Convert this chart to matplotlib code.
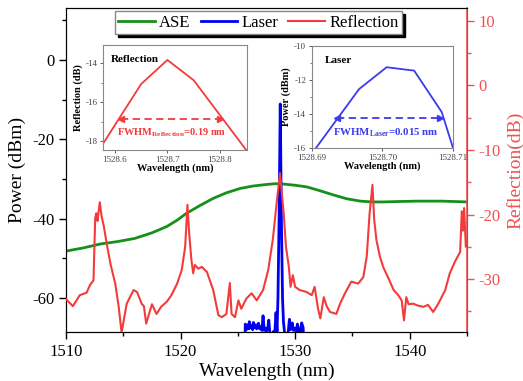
import matplotlib
matplotlib.use("Agg")
import matplotlib.pyplot as plt
from matplotlib.ticker import MultipleLocator, FixedLocator, FormatStrFormatter

plt.rcParams['font.family'] = ['Liberation Serif', 'DejaVu Serif']
plt.rcParams['mathtext.fontset'] = 'custom'
plt.rcParams['mathtext.rm'] = 'Liberation Serif'
plt.rcParams['mathtext.bf'] = 'Liberation Serif:bold'
plt.rcParams['axes.unicode_minus'] = False

# ---------------- data ----------------
ase_wl = [1510.0, 1511.5, 1513.0, 1514.5, 1516.0, 1517.5, 1518.8, 1519.7, 1520.5, 1521.7,
          1522.85, 1524.0, 1525.2, 1526.3, 1527.5, 1528.3, 1529.0, 1530.0, 1531.0, 1532.2,
          1533.3, 1534.5, 1535.7, 1536.7, 1537.7, 1539.0, 1540.6, 1542.8, 1545.0]
ase_pw = [-48.2, -47.4, -46.4, -45.8, -45.0, -43.6, -42.0, -40.4, -38.7, -36.7,
          -34.9, -33.5, -32.4, -31.8, -31.4, -31.2, -31.3, -31.6, -32.0, -33.0,
          -34.0, -35.0, -35.6, -35.8, -35.8, -35.7, -35.6, -35.6, -35.8]

laser_wl = [1510.0, 1525.6, 1525.65, 1525.75, 1525.85, 1525.95, 1526.0, 1526.1, 1526.2, 1526.3,
            1526.35, 1526.45, 1526.55, 1526.64, 1526.7, 1526.8, 1526.9, 1527.0, 1527.1, 1527.2,
            1527.3, 1527.4, 1527.5, 1527.6, 1527.7, 1527.8, 1527.95, 1528.1, 1528.2, 1528.33,
            1528.42, 1528.5, 1528.6, 1528.7, 1528.8, 1528.9, 1528.98, 1529.1, 1529.25, 1529.4,
            1529.5, 1529.6, 1529.75, 1529.85, 1530.0, 1530.1, 1530.2, 1530.3, 1530.45, 1530.57,
            1530.7, 1530.8, 1545.0]
laser_pw = [-75.0, -75.0, -66.6, -68.0, -66.8, -67.8, -66.0, -67.6, -66.9, -68.0,
            -66.2, -67.5, -66.8, -67.8, -67.0, -66.4, -67.8, -67.3, -68.2, -64.5,
            -68.2, -67.6, -68.4, -67.8, -65.6, -69.0, -70.0, -68.5, -70.0, -63.7,
            -68.5, -60.0, -40.0, -11.1, -40.0, -60.0, -66.0, -69.5, -70.0, -68.5,
            -65.4, -68.0, -66.3, -68.2, -67.6, -68.6, -66.6, -67.9, -69.5, -66.3,
            -67.5, -75.0, -75.0]

refl_wl = [1510.0, 1510.6, 1511.2, 1511.8, 1512.1, 1512.4, 1512.55, 1512.65, 1512.75, 1512.85,
           1512.95, 1513.1, 1513.3, 1513.55, 1513.9, 1514.3, 1514.6, 1514.85, 1515.3, 1515.9,
           1516.2, 1516.6, 1516.8, 1517.0, 1517.3, 1517.5, 1517.9, 1518.3, 1518.8, 1519.2,
           1519.7, 1520.1, 1520.4, 1520.6, 1520.75, 1520.95, 1521.1, 1521.25, 1521.55, 1521.85,
           1522.3, 1522.85, 1523.3, 1523.6, 1524.0, 1524.3, 1524.45, 1524.75, 1525.05, 1525.3,
           1525.75, 1526.2, 1526.65, 1527.2, 1527.65, 1528.05, 1528.35, 1528.68, 1529.0, 1529.2,
           1529.45, 1529.6, 1529.8, 1530.0, 1530.4, 1531.0, 1531.45, 1531.7, 1532.0, 1532.2,
           1532.5, 1532.75, 1533.05, 1533.6, 1533.9, 1534.35, 1534.9, 1535.5, 1535.95, 1536.25,
           1536.5, 1536.75, 1536.9, 1537.1, 1537.4, 1537.7, 1538.1, 1538.6, 1539.0, 1539.3,
           1539.5, 1539.7, 1539.9, 1540.3, 1540.7, 1541.2, 1541.6, 1542.05, 1542.5, 1543.1,
           1543.5, 1543.95, 1544.4, 1544.55, 1544.65, 1544.75, 1544.9, 1545.0]
refl_db = [-33.1, -34.2, -32.5, -32.1, -30.9, -30.2, -20.5, -19.8, -21.0, -19.5,
           -18.1, -20.2, -21.8, -24.5, -27.8, -30.7, -34.3, -38.3, -33.8, -31.7,
           -32.0, -33.8, -34.2, -36.9, -35.1, -33.9, -35.4, -34.3, -33.5, -32.5,
           -30.7, -28.6, -25.0, -18.5, -22.9, -27.1, -29.1, -27.8, -28.4, -28.1,
           -28.9, -31.7, -35.6, -35.9, -35.4, -30.6, -35.4, -35.9, -33.3, -34.6,
           -33.0, -32.2, -33.3, -31.7, -28.6, -23.9, -18.8, -13.6, -19.8, -25.0,
           -28.1, -31.2, -29.4, -31.2, -31.7, -32.0, -32.5, -31.2, -34.6, -36.1,
           -32.8, -34.2, -35.1, -35.4, -33.9, -32.2, -30.4, -30.7, -29.7, -26.5,
           -19.8, -15.4, -20.8, -24.0, -26.5, -28.2, -29.7, -31.7, -32.5, -33.3,
           -36.4, -32.8, -33.9, -33.8, -34.1, -34.3, -34.0, -35.1, -33.8, -31.7,
           -29.1, -27.3, -25.8, -19.5, -22.5, -19.0, -25.0, -24.0]

# inset data
inset_refl_wl = [1528.55, 1528.65, 1528.70, 1528.75, 1528.85]
inset_refl_db = [-19.3, -15.07, -13.83, -14.87, -18.46]
inset_laser_wl = [1528.6888, 1528.6967, 1528.7006, 1528.7045, 1528.7084, 1528.7123]
inset_laser_pw = [-17.0, -12.54, -11.26, -11.46, -13.88, -19.0]

xticks_main = [1510, 1520, 1530, 1540]
left_ticks = [0, -20, -40, -60]
right_ticks = [10, 0, -10, -20, -30]

GREEN = '#16901a'
BLUE = '#0000f0'
RED = '#f23c3c'
RED_AX = '#f25050'
LBLUE = '#3a3af0'

fig = plt.figure(figsize=(5.23, 3.81), dpi=100)
ax = fig.add_axes([0.1262, 0.1286, 0.7667, 0.8504])
ax2 = ax.twinx()

l_ase, = ax.plot(ase_wl, ase_pw, color=GREEN, lw=2.0, zorder=2, label='ASE')
l_las, = ax.plot(laser_wl, laser_pw, color=BLUE, lw=2.0, zorder=3, label='Laser')
l_ref, = ax2.plot(refl_wl, refl_db, color=RED, lw=1.5, zorder=4, label='Reflection')

ax.set_xlim(1510, 1545)
ax.set_ylim(-68.6, 13.1)
ax2.set_ylim(-38.2, 12.0)
ax.set_xticks(xticks_main)
ax.xaxis.set_minor_locator(MultipleLocator(5))
ax.set_yticks(left_ticks)
ax.yaxis.set_minor_locator(MultipleLocator(10))
ax2.set_yticks(right_ticks)
ax2.yaxis.set_minor_locator(MultipleLocator(5))

ax.tick_params(axis='both', which='major', direction='out', length=5, width=1, labelsize=12)
ax.tick_params(axis='both', which='minor', direction='out', length=3, width=1)
ax2.tick_params(axis='y', which='major', direction='out', length=5, width=1, labelsize=12,
                colors=RED_AX)
ax2.tick_params(axis='y', which='minor', direction='out', length=3, width=1, colors=RED_AX)
ax2.spines['right'].set_color(RED_AX)
ax2.spines['right'].set_linewidth(1.2)

ax.set_xlabel('Wavelength (nm)', fontsize=14, labelpad=2)
ax.set_ylabel('Power (dBm)', fontsize=14, labelpad=4)
ax2.set_ylabel('Reflection(dB)', fontsize=14, color=RED_AX, labelpad=4)

leg = ax.legend(handles=[l_ase, l_las, l_ref], loc='upper center',
                bbox_to_anchor=(0.48, 0.99), ncol=3, fontsize=12, frameon=True,
                fancybox=False, edgecolor='#888888', framealpha=1,
                shadow={'color': 'black', 'alpha': 1},
                handlelength=2.2, handletextpad=0.25, columnspacing=0.6,
                borderpad=0.2, borderaxespad=0.0)
leg.set_zorder(10)

# ---------------- inset: reflection ----------------
axr = fig.add_axes([0.1975, 0.6063, 0.2742, 0.2756])
axr.plot(inset_refl_wl, inset_refl_db, color=RED, lw=1.3)
axr.set_xlim(1528.578, 1528.851)
axr.set_ylim(-18.46, -13.06)
axr.set_xticks([1528.6, 1528.7, 1528.8])
axr.xaxis.set_major_formatter(FormatStrFormatter('%.1f'))
axr.set_yticks([-14, -16, -18])
axr.yaxis.set_minor_locator(FixedLocator([-15, -17]))
axr.set_xlabel('Wavelength (nm)', fontsize=7.5, fontweight='bold', labelpad=0)
axr.set_ylabel('Reflection (dB)', fontsize=7.5, fontweight='bold', labelpad=2)
axr.text(0.05, 0.86, 'Reflection', transform=axr.transAxes, fontsize=8, fontweight='bold',
         ha='left', va='center')
ref_arrow_x = (1528.612, 1528.800)
ref_arrow_y = -16.86
axr.plot(ref_arrow_x, [ref_arrow_y, ref_arrow_y], color=RED, lw=1.3, ls=(0, (4, 2.5)))
axr.plot([ref_arrow_x[0]], [ref_arrow_y], marker='<', color=RED, ms=5, mec=RED)
axr.plot([ref_arrow_x[1]], [ref_arrow_y], marker='>', color=RED, ms=5, mec=RED)
axr.text(1528.708, -17.55, r'FWHM$_{\mathbf{Reflection}}$=0.19 nm', color=RED, fontsize=7.5,
         fontweight='bold', ha='center', va='center')

# ---------------- inset: laser ----------------
axl = fig.add_axes([0.596, 0.6108, 0.2702, 0.2693])
axl.plot(inset_laser_wl, inset_laser_pw, color=LBLUE, lw=1.3)
axl.set_xlim(1528.69, 1528.71)
axl.set_ylim(-16, -10)
axl.set_xticks([1528.69, 1528.70, 1528.71])
axl.xaxis.set_major_formatter(FormatStrFormatter('%.2f'))
axl.set_yticks([-10, -12, -14, -16])
axl.yaxis.set_minor_locator(FixedLocator([-11, -13, -15]))
axl.set_xlabel('Wavelength (nm)', fontsize=7.5, fontweight='bold', labelpad=0)
axl.set_ylabel('Power (dBm)', fontsize=7.5, fontweight='bold', labelpad=2)
axl.text(0.09, 0.86, 'Laser', transform=axl.transAxes, fontsize=8, fontweight='bold',
         ha='left', va='center')
las_arrow_x = (1528.6936, 1528.7082)
las_arrow_y = -14.2
axl.plot(las_arrow_x, [las_arrow_y, las_arrow_y], color=LBLUE, lw=1.3, ls=(0, (4, 2.5)))
axl.plot([las_arrow_x[0]], [las_arrow_y], marker='<', color=LBLUE, ms=5)
axl.plot([las_arrow_x[1]], [las_arrow_y], marker='>', color=LBLUE, ms=5)
axl.text(1528.7005, -15.07, r'FWHM$_{\mathbf{Laser}}$=0.015 nm', color=LBLUE, fontsize=7.8,
         fontweight='bold', ha='center', va='center')

for a in (axr, axl):
    for s in a.spines.values():
        s.set_color('#888888')
        s.set_linewidth(0.8)
    a.tick_params(axis='both', which='major', direction='out', length=2.5, width=0.6,
                  labelsize=6.5, pad=1.5, colors='#444444')
    a.tick_params(axis='both', which='minor', direction='out', length=1.5, width=0.5,
                  colors='#444444')
    a.patch.set_facecolor('white')

fig.savefig('out.png', dpi=100)
